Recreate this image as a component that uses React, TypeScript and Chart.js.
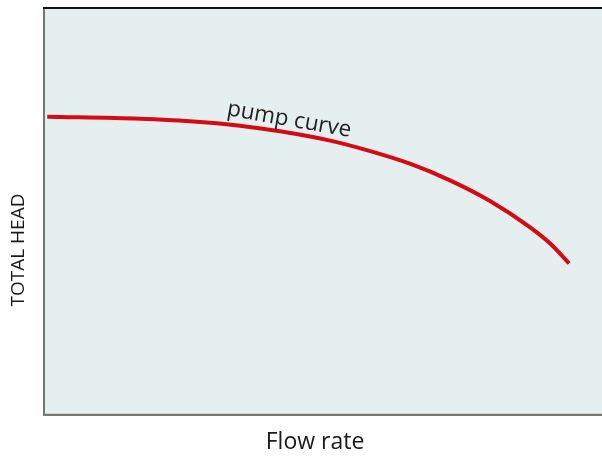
import React, { useEffect, useRef } from "react";
import { Chart, registerables } from "chart.js";

Chart.register(...registerables);

// Flow rate (relative units) and total head (relative units)
const flowRate: number[] = [0.4, 17.1, 26.0, 35.0, 42.2, 51.2, 58.4, 65.5, 72.7, 79.9, 87.1, 90.7, 94.1];
const totalHead: number[] = [73.4, 72.9, 72.3, 71.2, 69.8, 67.5, 64.9, 61.8, 57.7, 52.6, 46.1, 42.1, 37.2];

const seriesLabel = "pump curve";
const xTitle = "Flow rate";
const yTitle = "TOTAL HEAD";

const decorPlugin = {
  id: "decor",
  beforeDatasetsDraw(chart: any) {
    const { ctx, chartArea } = chart;
    const { left, top, right, bottom } = chartArea;
    ctx.save();
    ctx.fillStyle = "#e6eff0";
    ctx.fillRect(left, top, right - left, bottom - top);
    ctx.restore();
  },
  afterDraw(chart: any) {
    const { ctx, chartArea } = chart;
    const { left, top, right, bottom } = chartArea;
    ctx.save();
    // borders
    ctx.fillStyle = "#c9d6d8";
    ctx.fillRect(left, bottom - 1, right - left, 1);
    ctx.fillStyle = "#767676";
    ctx.fillRect(left - 2, top - 2, 2, bottom - top + 4);
    ctx.fillRect(left - 2, bottom, right - left + 2, 2);
    ctx.fillStyle = "#111111";
    ctx.fillRect(left - 2, top - 2, right - left + 2, 2);

    // axis titles
    ctx.fillStyle = "#1a1a1a";
    ctx.textAlign = "center";
    ctx.textBaseline = "alphabetic";
    ctx.font = "23px 'Open Sans', 'Liberation Sans', sans-serif";
    ctx.fillText(xTitle, 315, 449);

    ctx.save();
    ctx.translate(24, 250);
    ctx.rotate(-Math.PI / 2);
    ctx.font = "19px 'Open Sans', 'Liberation Sans', sans-serif";
    ctx.fillText(yTitle, 0, 0);
    ctx.restore();

    // curve label
    ctx.save();
    ctx.translate(288, 126);
    ctx.rotate((10 * Math.PI) / 180);
    ctx.fillStyle = "#222222";
    ctx.font = "22.5px 'Open Sans', 'Liberation Sans', sans-serif";
    ctx.fillText(seriesLabel, 0, 0);
    ctx.restore();

    ctx.restore();
  },
};

export default function App() {
  const canvasRef = useRef<HTMLCanvasElement | null>(null);

  useEffect(() => {
    document.body.style.margin = "0";
    const canvas = canvasRef.current;
    if (!canvas) return;
    const chart = new Chart(canvas, {
      type: "line",
      data: {
        datasets: [
          {
            label: seriesLabel,
            data: flowRate.map((x, i) => ({ x, y: totalHead[i] })),
            borderColor: "#d50b14",
            borderWidth: 4,
            pointRadius: 0,
            fill: false,
            cubicInterpolationMode: "monotone",
          },
        ],
      },
      options: {
        animation: false,
        responsive: false,
        maintainAspectRatio: false,
        layout: { padding: { left: 45, top: 9, right: 0, bottom: 42 } },
        plugins: {
          legend: { display: false },
          tooltip: { enabled: false },
          title: { display: false },
        },
        scales: {
          x: { type: "linear", min: 0, max: 100, display: false },
          y: { type: "linear", min: 0, max: 100, display: false },
        },
      },
      plugins: [decorPlugin],
    });
    return () => chart.destroy();
  }, []);

  return (
    <div style={{ width: 602, height: 456, position: "relative" }}>
      <canvas ref={canvasRef} width={602} height={456} style={{ display: "block", width: 602, height: 456 }} />
    </div>
  );
}
